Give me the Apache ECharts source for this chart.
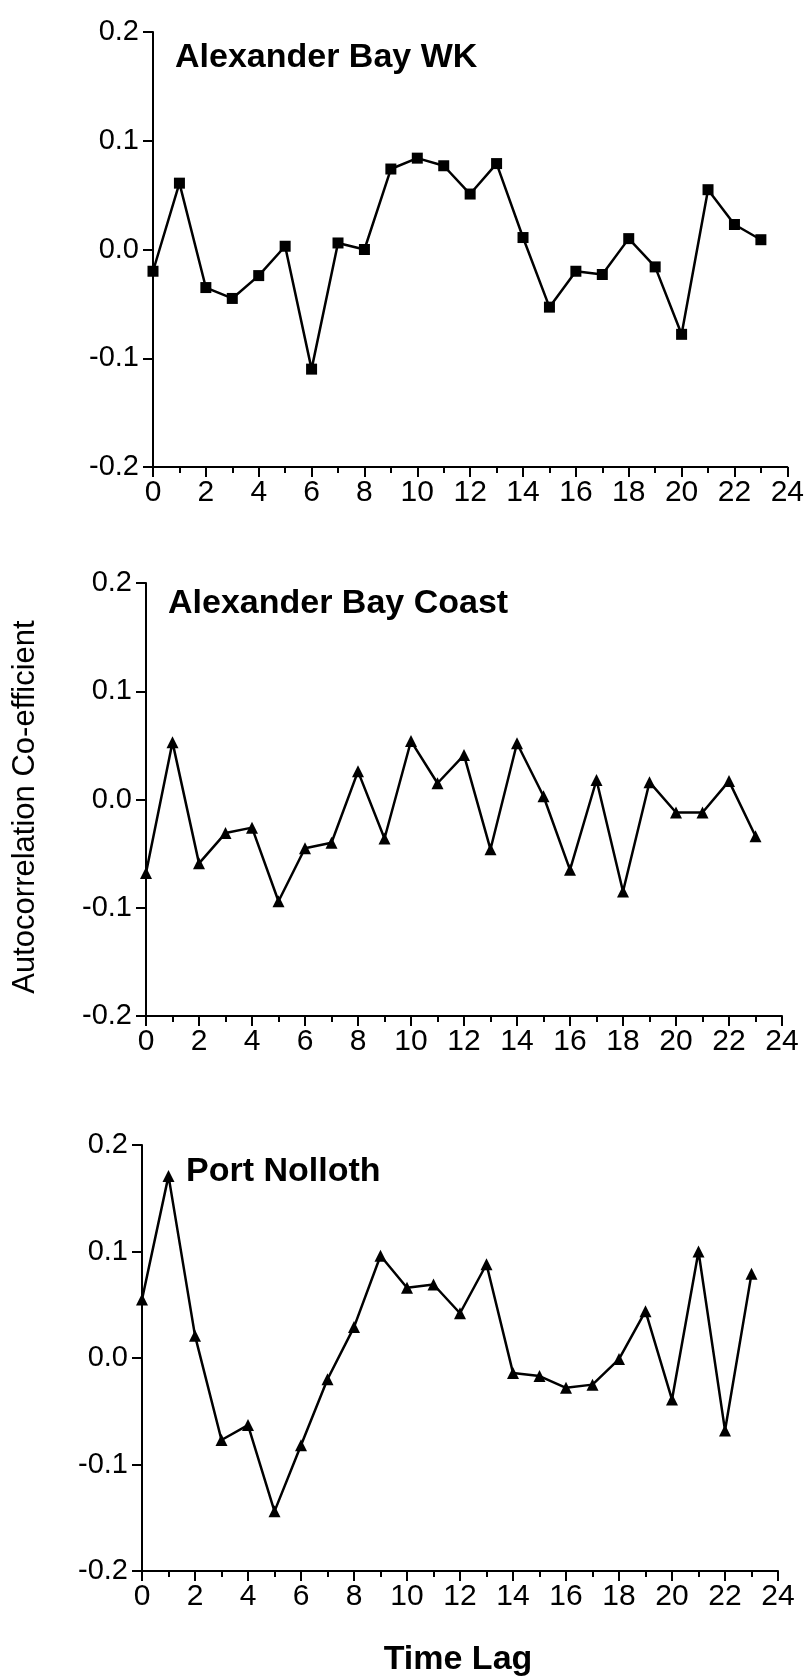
<!DOCTYPE html>
<html>
<head>
<meta charset="utf-8">
<title>Autocorrelation by time lag</title>
<script src="https://cdn.jsdelivr.net/npm/echarts@6/dist/echarts.min.js"></script>
<style>
  html, body { margin: 0; padding: 0; background: #ffffff; }
  #chart { width: 807px; height: 1678px; }
</style>
</head>
<body>
<div id="chart"></div>
<script>
// Time lags (hours) shared by all three stations
const lags = [0, 1, 2, 3, 4, 5, 6, 7, 8, 9, 10, 11, 12, 13, 14, 15, 16, 17, 18, 19, 20, 21, 22, 23];

// Autocorrelation coefficients per station
const wkValues = [-0.020, 0.061, -0.035, -0.045, -0.024, 0.003, -0.110, 0.006, 0.000, 0.074,
  0.084, 0.077, 0.051, 0.079, 0.011, -0.053, -0.020, -0.023, 0.010, -0.016,
  -0.078, 0.055, 0.023, 0.009];
const coastValues = [-0.068, 0.053, -0.059, -0.031, -0.026, -0.094, -0.045, -0.040, 0.026, -0.036,
  0.054, 0.015, 0.041, -0.046, 0.052, 0.003, -0.065, 0.018, -0.085, 0.016,
  -0.012, -0.012, 0.017, -0.034];
const nollothValues = [0.055, 0.171, 0.021, -0.077, -0.063, -0.144, -0.082, -0.020, 0.029, 0.096,
  0.066, 0.069, 0.042, 0.088, -0.014, -0.017, -0.028, -0.025, -0.001, 0.044,
  -0.039, 0.100, -0.068, 0.079];

const panelTitles = ['Alexander Bay WK', 'Alexander Bay Coast', 'Port Nolloth'];
const xTicks = [0, 2, 4, 6, 8, 10, 12, 14, 16, 18, 20, 22, 24];
const yTicks = [-0.2, -0.1, 0.0, 0.1, 0.2];
const yAxisTitle = 'Autocorrelation Co-efficient';
const xAxisTitle = 'Time Lag';

const FONT = "'Liberation Sans', Arial, Helvetica, sans-serif";
const INK = '#000000';

const panels = [
  { values: wkValues, symbol: 'rect', size: 11, grid: { left: 153, top: 32, width: 636, height: 435 }, title: [175, 60] },
  { values: coastValues, symbol: 'triangle', size: 12, grid: { left: 146, top: 583, width: 636, height: 433 }, title: [168, 606] },
  { values: nollothValues, symbol: 'triangle', size: 12, grid: { left: 142, top: 1145, width: 636, height: 426 }, title: [186, 1174] }
];

const pairs = vals => lags.map((lag, i) => [lag, vals[i]]);

const option = {
  animation: false,
  backgroundColor: '#ffffff',
  grid: panels.map(p => Object.assign({ containLabel: false }, p.grid)),
  xAxis: panels.map((p, i) => ({
    type: 'value',
    gridIndex: i,
    min: xTicks[0],
    max: xTicks[xTicks.length - 1],
    interval: 2,
    axisLine: { show: true, onZero: false, lineStyle: { color: INK, width: 2 } },
    axisTick: { show: true, inside: false, length: 10, lineStyle: { color: INK, width: 2 } },
    minorTick: { show: true, splitNumber: 2, length: 6, lineStyle: { color: INK, width: 2 } },
    axisLabel: { show: true, margin: 11, color: INK, fontSize: 30, fontFamily: FONT },
    splitLine: { show: false },
    minorSplitLine: { show: false }
  })),
  yAxis: panels.map((p, i) => ({
    type: 'value',
    gridIndex: i,
    min: yTicks[0],
    max: yTicks[yTicks.length - 1],
    interval: 0.1,
    axisLine: { show: true, onZero: false, lineStyle: { color: INK, width: 2 } },
    axisTick: { show: true, inside: false, length: 10, lineStyle: { color: INK, width: 2 } },
    axisLabel: {
      show: true, margin: 14, color: INK, fontSize: 29, fontFamily: FONT,
      formatter: v => (Math.abs(v) < 1e-9 ? 0 : v).toFixed(1)
    },
    splitLine: { show: false }
  })),
  series: panels.map((p, i) => ({
    type: 'line',
    name: panelTitles[i],
    xAxisIndex: i,
    yAxisIndex: i,
    data: pairs(p.values),
    symbol: p.symbol,
    symbolSize: p.size,
    showAllSymbol: true,
    lineStyle: { color: INK, width: 2.5 },
    itemStyle: { color: INK, borderWidth: 0 },
    emphasis: { disabled: true }
  })),
  graphic: [
    ...panels.map((p, i) => ({
      type: 'text',
      left: p.title[0],
      top: p.title[1] - 19,
      style: { text: panelTitles[i], font: `bold 34px ${FONT}`, fill: INK }
    })),
    {
      type: 'text',
      x: 25,
      y: 807,
      rotation: Math.PI / 2,
      style: { text: yAxisTitle, font: `31px ${FONT}`, fill: INK, align: 'center', verticalAlign: 'middle' }
    },
    {
      type: 'text',
      x: 458,
      y: 1660,
      style: { text: xAxisTitle, font: `bold 34px ${FONT}`, fill: INK, align: 'center', verticalAlign: 'middle' }
    }
  ]
};

const chart = echarts.init(document.getElementById('chart'), null, { renderer: 'canvas' });
chart.setOption(option);
</script>
</body>
</html>
